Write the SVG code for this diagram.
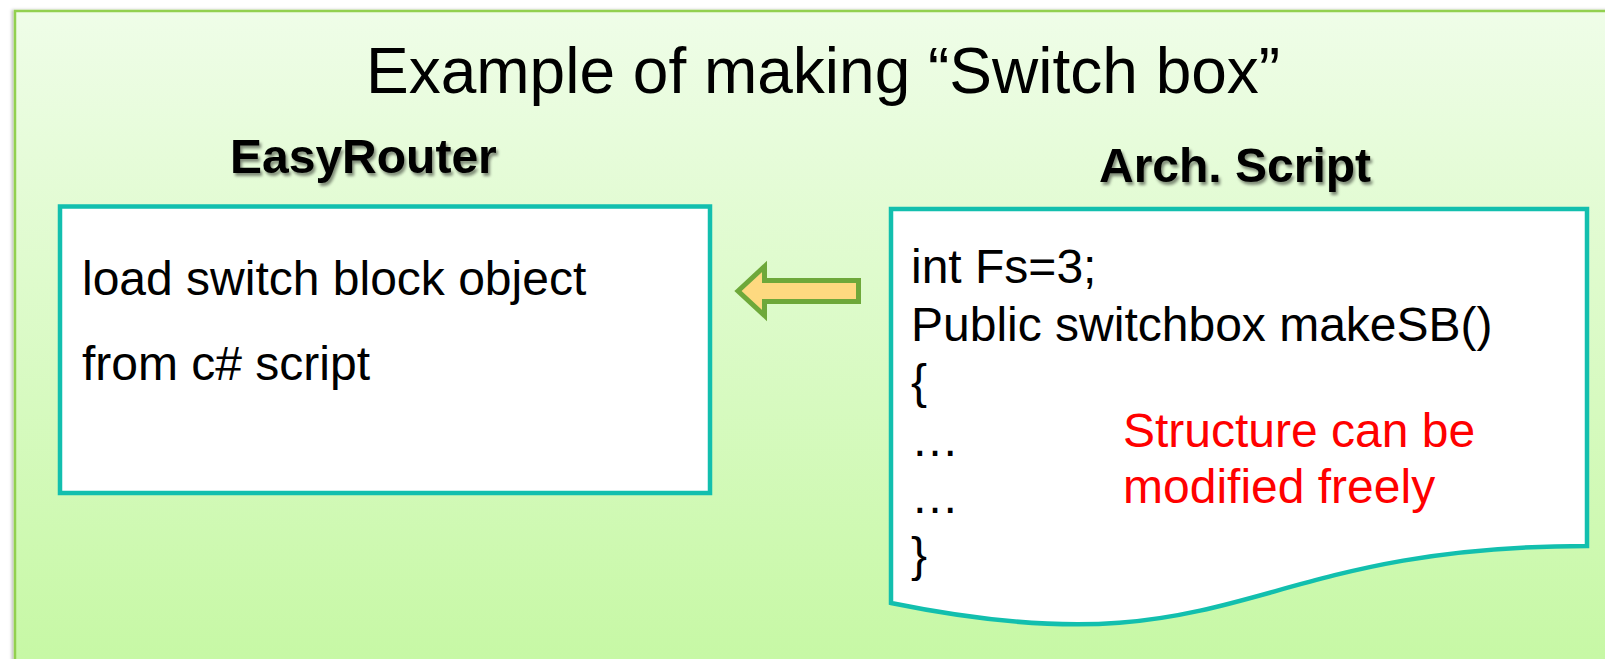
<svg xmlns="http://www.w3.org/2000/svg" width="1605" height="659" viewBox="0 0 1605 659">
  <style>
    .title { font-family: "Liberation Sans", Arial, sans-serif; font-size: 64px; fill: #000; }
    .head { font-family: "Liberation Sans", Arial, sans-serif; font-size: 48px; font-weight: bold; fill: #000; }
    .body { font-family: "Liberation Sans", Arial, sans-serif; font-size: 48px; fill: #000; }
    .note { font-family: "Liberation Sans", Arial, sans-serif; font-size: 48px; fill: #ff0000; }
    .box { fill: #ffffff; stroke: #12bfae; stroke-width: 4.5; }
  </style>
  <defs>
    <linearGradient id="panelFill" x1="0" y1="0" x2="0" y2="1">
      <stop offset="0" stop-color="#effde8"/>
      <stop offset="1" stop-color="#c6f8a4"/>
    </linearGradient>
    <filter id="headShadow" x="-10%" y="-30%" width="120%" height="160%">
      <feDropShadow dx="2" dy="3" stdDeviation="1.5" flood-color="#000" flood-opacity="0.45"/>
    </filter>
    <filter id="panelShadow" x="-5%" y="-5%" width="110%" height="110%">
      <feDropShadow dx="-2" dy="0" stdDeviation="1.5" flood-color="#000" flood-opacity="0.25"/>
    </filter>
  </defs>

  <rect width="1605" height="659" fill="#ffffff"/>

  <!-- background panel -->
  <g id="panel">
    <rect x="15" y="11" width="1600" height="660" fill="url(#panelFill)" stroke="#92d050" stroke-width="2.5" filter="url(#panelShadow)"/>
  </g>

  <!-- title -->
  <g id="title">
    <text class="title" x="366" y="93">Example of making “Switch box”</text>
  </g>

  <!-- EasyRouter node -->
  <g id="easyrouter">
    <text class="head" x="230" y="173" filter="url(#headShadow)">EasyRouter</text>
    <rect class="box" x="60" y="206.5" width="650" height="286.5"/>
    <text class="body" x="82" y="295">load switch block object</text>
    <text class="body" x="82" y="380">from c# script</text>
  </g>

  <!-- Arch. Script node (document shape) -->
  <g id="archscript">
    <text class="head" x="1099" y="182" filter="url(#headShadow)">Arch. Script</text>
    <path class="box" d="M891,209 L1587,209 L1587,546 C1239,546 1239,674 891,603 Z"/>
    <text class="body" x="911" y="283">int Fs=3;</text>
    <text class="body" x="911" y="341">Public switchbox makeSB()</text>
    <text class="body" x="911" y="398">{</text>
    <text class="body" x="911" y="455.5">…</text>
    <text class="body" x="911" y="513">…</text>
    <text class="body" x="911" y="570.5">}</text>
    <text class="note" x="1123" y="447">Structure can be</text>
    <text class="note" x="1123" y="503">modified freely</text>
  </g>

  <!-- connectors -->
  <g id="connectors">
    <path d="M738,291 L764.5,266.5 L764.5,280.5 L858.5,280.5 L858.5,301.5 L764.5,301.5 L764.5,315.5 Z" fill="#fed980" stroke="#6ea83a" stroke-width="5" stroke-linejoin="miter"/>
  </g>
</svg>
